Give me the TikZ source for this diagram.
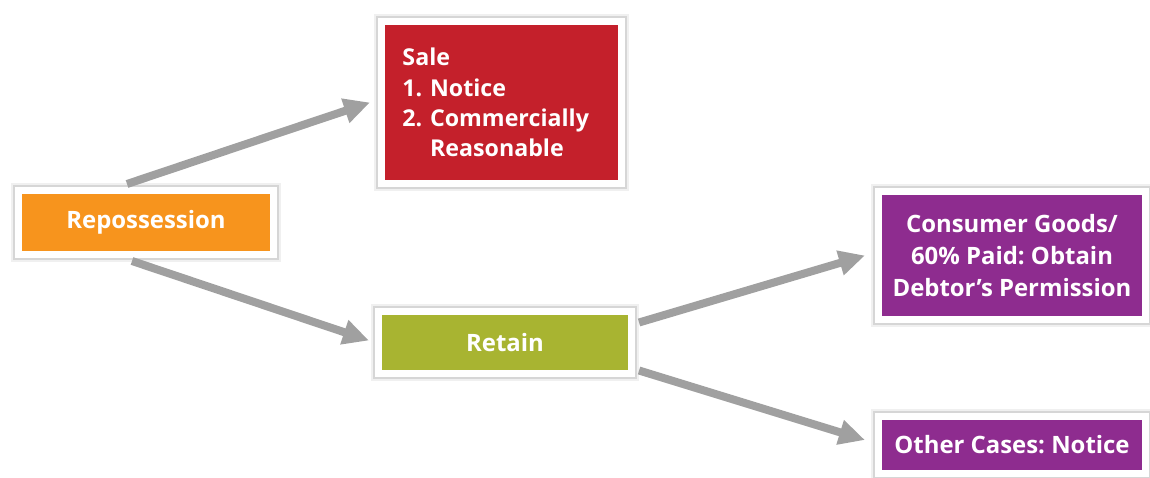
\documentclass[tikz,border=0pt]{standalone}
\usepackage{fontspec}
\setmainfont{Open Sans}
\usetikzlibrary{calc,arrows.meta}
\definecolor{repoorange}{HTML}{F7941D}
\definecolor{salered}{HTML}{C4202B}
\definecolor{retaingreen}{HTML}{A8B431}
\definecolor{casepurple}{HTML}{8E2C8F}
\definecolor{arrowgray}{HTML}{A0A0A0}

\begin{document}
\begin{tikzpicture}[x=0.025cm,y=-0.025cm,
  card/.style={draw=white, line width=0.175cm, text=white, inner sep=0pt,
    font=\fontsize{17}{22.5}\selectfont\bfseries\frenchspacing, align=center,
    preaction={draw=black!6, line width=0.38cm},
    preaction={draw=black!16, line width=0.27cm}},
  flow/.style={-{Triangle[length=0.65cm,width=0.6cm]}, line width=0.2cm, draw=arrowgray}]
\useasboundingbox (0,0) rectangle (1150,478);

\node[card, fill=repoorange, minimum width=6.375cm, minimum height=1.6cm] (repo) at (146,222.5) {Repossession};
\node[card, fill=salered, align=left, text width=4.95cm, inner xsep=0.525cm, minimum height=4.05cm,
  font=\fontsize{16.5}{21.5}\selectfont\bfseries\frenchspacing] (sale) at (501.5,102.5)
  {Sale\\1. Notice\\2. Commercially\\\phantom{2. }Reasonable};
\node[card, fill=retaingreen, minimum width=6.325cm, minimum height=1.55cm] (retain) at (505,342.5) {Retain};
\node[card, fill=casepurple, minimum width=6.675cm, minimum height=3.2cm] (consumer) at (1012,255.5)
  {Consumer Goods/\\60\% Paid: Obtain\\Debtor’s Permission};
\node[card, fill=casepurple, minimum width=6.675cm, minimum height=1.44cm] (other) at (1012,445) {Other Cases: Notice};

%arrows from repossession
\draw[flow] ($(repo.north)+(-19,-3)$) -- ($(sale.west)+(-8,0)$);
\draw[flow] ($(repo.south)+(-14,3)$) -- ($(retain.west)+(-6,-2)$);
%arrows from retain
\draw[flow] ($(retain.east)+(4,-20)$) -- ($(consumer.west)+(-10,0)$);
\draw[flow] ($(retain.east)+(4,28)$) -- ($(other.west)+(-10,-5)$);
\end{tikzpicture}
\end{document}
